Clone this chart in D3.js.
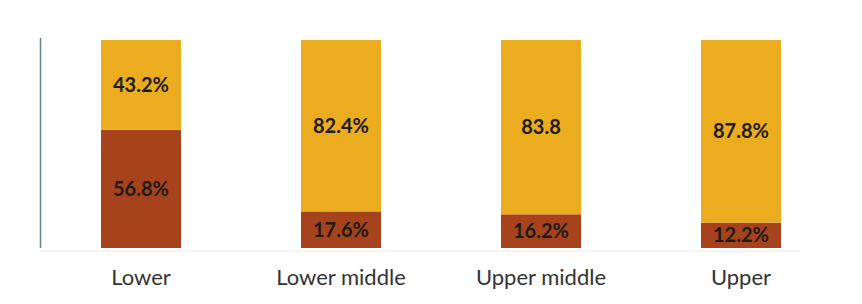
<!DOCTYPE html>
<html>
<head>
<meta charset="utf-8">
<script src="https://cdn.jsdelivr.net/npm/d3@7"></script>
<style>
  body { margin: 0; background: #fff; }
  svg { display: block; }
</style>
</head>
<body>
<div id="chart"></div>
<script>
const categories = ["Lower", "Lower middle", "Upper middle", "Upper"];
const brownValues = [56.8, 17.6, 16.2, 12.2];
const yellowValues = [43.2, 82.4, 83.8, 87.8];
const brownLabels = ["56.8%", "17.6%", "16.2%", "12.2%"];
const yellowLabels = ["43.2%", "82.4%", "83.8", "87.8%"];

const W = 862, H = 304;
const svg = d3.select("#chart").append("svg")
  .attr("width", W)
  .attr("height", H);

// x: one band per class, bars 80px wide, 200px apart
const x = d3.scaleBand()
  .domain(categories)
  .range([41, 841])
  .paddingInner(0.6)
  .paddingOuter(0.3);

const y = d3.scaleLinear()
  .domain([0, 100])
  .range([248, 40]);

// faint baseline
svg.append("line")
  .attr("x1", 40).attr("x2", 800)
  .attr("y1", y(0) + 3).attr("y2", y(0) + 3)
  .attr("stroke", "#e6e6e6")
  .attr("stroke-width", 1);

// left axis line
svg.append("line")
  .attr("x1", 40.5).attr("x2", 40.5)
  .attr("y1", y(100) - 2).attr("y2", y(0))
  .attr("stroke", "#5f7f9c")
  .attr("stroke-width", 1.5);

const rows = categories.map((c, i) => ({
  cat: c, brown: brownValues[i], yellow: yellowValues[i],
  bl: brownLabels[i], yl: yellowLabels[i]
}));

const g = svg.selectAll("g.bar").data(rows).join("g").attr("class", "bar");

g.append("rect")
  .attr("x", d => x(d.cat))
  .attr("width", x.bandwidth())
  .attr("y", d => y(d.brown))
  .attr("height", d => y(0) - y(d.brown))
  .attr("fill", "#a6431c");

g.append("rect")
  .attr("x", d => x(d.cat))
  .attr("width", x.bandwidth())
  .attr("y", d => y(d.brown + d.yellow))
  .attr("height", d => y(d.brown) - y(d.brown + d.yellow))
  .attr("fill", "#ebac1f");

// value labels, centred in each segment
g.append("text")
  .attr("x", d => x(d.cat) + x.bandwidth() / 2)
  .attr("y", d => y(d.brown / 2))
  .attr("dy", "0.35em")
  .attr("text-anchor", "middle")
  .attr("font-family", "Lato, 'Open Sans', sans-serif")
  .attr("font-weight", "bold")
  .attr("font-size", 20)
  .attr("fill", "#1e1a16")
  .text(d => d.bl);

g.append("text")
  .attr("x", d => x(d.cat) + x.bandwidth() / 2)
  .attr("y", d => y(d.brown + d.yellow / 2))
  .attr("dy", "0.35em")
  .attr("text-anchor", "middle")
  .attr("font-family", "Lato, 'Open Sans', sans-serif")
  .attr("font-weight", "bold")
  .attr("font-size", 20)
  .attr("fill", "#1e1a16")
  .text(d => d.yl);

// category labels
svg.append("g")
  .attr("transform", "translate(0," + (y(0) + 21) + ")")
  .call(d3.axisBottom(x).tickSize(0).tickPadding(0))
  .call(a => a.select(".domain").remove())
  .selectAll("text")
  .attr("font-family", "Lato, 'Open Sans', sans-serif")
  .attr("font-size", 22)
  .attr("fill", "#333");
</script>
</body>
</html>
